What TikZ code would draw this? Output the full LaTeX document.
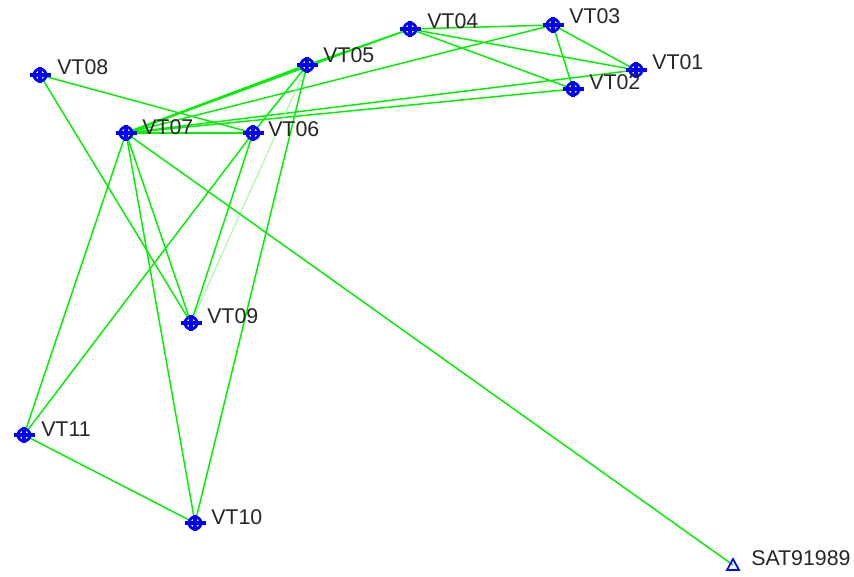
\documentclass[tikz,border=0pt]{standalone}
\usepackage{fontspec}
\setmainfont{Liberation Sans}
\usetikzlibrary{calc}
\definecolor{edgegreen}{RGB}{0,240,0}
\definecolor{lightgreen}{RGB}{170,250,170}
\definecolor{stblue}{RGB}{0,0,255}
\begin{document}
\begin{tikzpicture}[x=0.75pt,y=-0.75pt,
  edge/.style={draw=edgegreen,line width=1.1pt},
  faint/.style={draw=lightgreen,line width=0.9pt},
  lbl/.style={anchor=base west,inner sep=0pt,font=\fontsize{16}{18}\selectfont,text=black!85},
  pt/.style={inner sep=0pt,minimum size=0pt}]
\useasboundingbox (0,0) rectangle (854,576);
\fill[white] (0,0) rectangle (854,576);
% station coordinates
\coordinate (VT01) at (636,70);
\coordinate (VT02) at (573,89);
\coordinate (VT03) at (553,25);
\coordinate (VT04) at (410,29);
\coordinate (VT05) at (307,65);
\coordinate (VT06) at (253,133);
\coordinate (VT07) at (126,133);
\coordinate (VT08) at (40,75);
\coordinate (VT09) at (191,323);
\coordinate (VT10) at (195,523);
\coordinate (VT11) at (24,435);
\coordinate (SAT) at (733,565);
% connectors
\draw[edge] (VT04) -- (VT03);
\draw[edge] (VT04) -- (VT01);
\draw[edge] (VT04) -- (VT02);
\draw[edge] (VT03) -- (VT01);
\draw[edge] (VT03) -- (VT02);
\draw[edge] (VT05) -- (VT04);
\draw[edge] (VT03) -- (VT07);
\draw[edge] (VT01) -- (VT07);
\draw[edge] (VT02) -- (VT07);
\draw[edge,line width=1.7pt] (VT05) -- (VT07);
\draw[edge] (VT04) -- (VT07);
\draw[edge] (VT05) -- (VT06);
\draw[faint] (VT05) -- (VT09);
\draw[edge] (VT05) -- (VT10);
\draw[edge] (VT08) -- (VT06);
\draw[edge] (VT08) -- (VT09);
\draw[edge,line width=1.7pt] (VT07) -- (VT06);
\draw[edge] (VT07) -- (VT11);
\draw[edge] (VT07) -- (VT09);
\draw[edge] (VT07) -- (VT10);
\draw[edge] (VT07) -- (SAT);
\draw[edge] (VT06) -- (VT11);
\draw[edge] (VT06) -- (VT09);
\draw[edge] (VT11) -- (VT10);
% station symbols
\foreach \n in {VT01,VT02,VT03,VT04,VT05,VT06,VT07,VT08,VT09,VT10,VT11}{
  \fill[white] (\n) circle[radius=6];
  \draw[stblue,line width=2.1pt] (\n) circle[radius=6];
  \draw[stblue,line width=2.3pt] ($(\n)+(-10.5,0)$) -- ($(\n)+(10.5,0)$);
  \draw[stblue,line width=2.3pt] ($(\n)+(0,-7.8)$) -- ($(\n)+(0,7.8)$);
}
\draw[stblue,line width=1.3pt,line join=miter] ($(SAT)+(-6,5)$) -- ($(SAT)+(6,5)$) -- ($(SAT)+(0,-6)$) -- cycle;
% labels
\node[lbl] (tVT01) at (652,69) {VT01};
\node[lbl] (tVT02) at (589,89) {VT02};
\node[lbl] (tVT03) at (569,23) {VT03};
\node[lbl] (tVT04) at (427,28) {VT04};
\node[lbl] (tVT05) at (323,62) {VT05};
\node[lbl] (tVT06) at (268,136) {VT06};
\node[lbl] (tVT07) at (142,134) {VT07};
\node[lbl] (tVT08) at (57,74) {VT08};
\node[lbl] (tVT09) at (207,323) {VT09};
\node[lbl] (tVT10) at (211,524) {VT10};
\node[lbl] (tVT11) at (41,436) {VT11};
\node[lbl] (tSAT) at (751,565) {SAT91989};
\end{tikzpicture}
\end{document}
